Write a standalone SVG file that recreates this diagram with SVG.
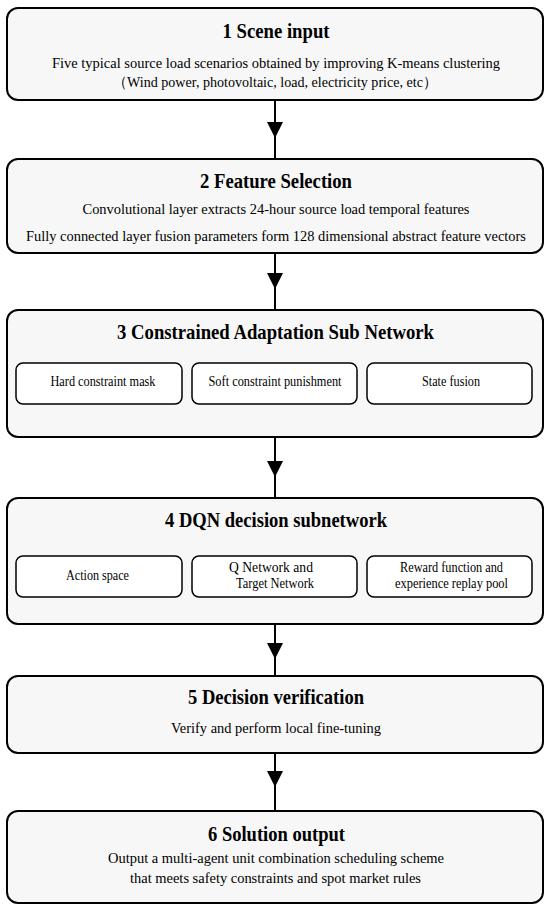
<svg xmlns="http://www.w3.org/2000/svg" width="550" height="911" viewBox="0 0 550 911">
<defs>
<style>
.outer{fill:#f7f7f7;stroke:#000;stroke-width:2}
.inner{fill:#fff;stroke:#000;stroke-width:1.5}
text{font-family:"Liberation Serif","Times New Roman",serif;text-anchor:middle;fill:#000}
.title{font-weight:bold;font-size:21px}
.body{font-size:15px}
.small{font-size:14.5px}
.conn{stroke:#000;stroke-width:2;fill:none}
.head{fill:#000}
</style>
</defs>
<rect width="550" height="911" fill="#fff"/>
<g id="connectors">
<line class="conn" x1="275" y1="100" x2="275" y2="159"/>
<polygon class="head" points="267,122 283,122 275,138"/>
<line class="conn" x1="275" y1="253" x2="275" y2="310"/>
<polygon class="head" points="267,273 283,273 275,289"/>
<line class="conn" x1="275" y1="437" x2="275" y2="498"/>
<polygon class="head" points="267,461 283,461 275,477"/>
<line class="conn" x1="275" y1="624" x2="275" y2="676"/>
<polygon class="head" points="267,643 283,643 275,659"/>
<line class="conn" x1="275" y1="753" x2="275" y2="811"/>
<polygon class="head" points="267,771 283,771 275,787"/>
</g>
<g id="node1">
<rect class="outer" x="7" y="8" width="536" height="92" rx="11"/>
<text class="title" x="276" y="38" textLength="107" lengthAdjust="spacingAndGlyphs">1 Scene input</text>
<text class="body" x="276" y="68" textLength="448" lengthAdjust="spacingAndGlyphs">Five typical source load scenarios obtained by improving K-means clustering</text>
<text class="body" x="275" y="87" textLength="324" lengthAdjust="spacingAndGlyphs">（Wind power, photovoltaic, load, electricity price, etc）</text>
</g>
<g id="node2">
<rect class="outer" x="7" y="159" width="536" height="94" rx="11"/>
<text class="title" x="276" y="188" textLength="152" lengthAdjust="spacingAndGlyphs">2 Feature Selection</text>
<text class="body" x="276" y="214" textLength="387" lengthAdjust="spacingAndGlyphs">Convolutional layer extracts 24-hour source load temporal features</text>
<text class="body" x="276" y="241" textLength="500" lengthAdjust="spacingAndGlyphs">Fully connected layer fusion parameters form 128 dimensional abstract feature vectors</text>
</g>
<g id="node3">
<rect class="outer" x="7" y="310" width="536" height="127" rx="11"/>
<text class="title" x="275.5" y="339" textLength="317" lengthAdjust="spacingAndGlyphs">3 Constrained Adaptation Sub Network</text>
<g id="node3a">
<rect class="inner" x="16" y="363" width="166" height="41" rx="7"/>
<text class="small" x="103" y="386" textLength="105" lengthAdjust="spacingAndGlyphs">Hard constraint mask</text>
</g>
<g id="node3b">
<rect class="inner" x="192" y="363" width="165" height="41" rx="7"/>
<text class="small" x="275" y="386" textLength="133" lengthAdjust="spacingAndGlyphs">Soft constraint punishment</text>
</g>
<g id="node3c">
<rect class="inner" x="367" y="363" width="165" height="41" rx="7"/>
<text class="small" x="451" y="386" textLength="58" lengthAdjust="spacingAndGlyphs">State fusion</text>
</g>
</g>
<g id="node4">
<rect class="outer" x="7" y="498" width="536" height="126" rx="11"/>
<text class="title" x="276" y="527" textLength="222" lengthAdjust="spacingAndGlyphs">4 DQN decision subnetwork</text>
<g id="node4a">
<rect class="inner" x="16" y="556" width="166" height="41" rx="7"/>
<text class="small" x="97.5" y="580" textLength="63" lengthAdjust="spacingAndGlyphs">Action space</text>
</g>
<g id="node4b">
<rect class="inner" x="192" y="556" width="165" height="41" rx="7"/>
<text class="small" x="271" y="572" textLength="84" lengthAdjust="spacingAndGlyphs">Q Network and</text>
<text class="small" x="275" y="588" textLength="78" lengthAdjust="spacingAndGlyphs">Target Network</text>
</g>
<g id="node4c">
<rect class="inner" x="367" y="556" width="165" height="41" rx="7"/>
<text class="small" x="451.5" y="572" textLength="103" lengthAdjust="spacingAndGlyphs">Reward function and</text>
<text class="small" x="451.5" y="588" textLength="113" lengthAdjust="spacingAndGlyphs">experience replay pool</text>
</g>
</g>
<g id="node5">
<rect class="outer" x="7" y="676" width="536" height="77" rx="11"/>
<text class="title" x="276" y="704" textLength="176" lengthAdjust="spacingAndGlyphs">5 Decision verification</text>
<text class="body" x="276" y="733" textLength="210" lengthAdjust="spacingAndGlyphs">Verify and perform local fine-tuning</text>
</g>
<g id="node6">
<rect class="outer" x="7" y="811" width="536" height="92" rx="11"/>
<text class="title" x="276.5" y="841" textLength="137" lengthAdjust="spacingAndGlyphs">6 Solution output</text>
<text class="body" x="276" y="863" textLength="336" lengthAdjust="spacingAndGlyphs">Output a multi-agent unit combination scheduling scheme</text>
<text class="body" x="275.5" y="883" textLength="291" lengthAdjust="spacingAndGlyphs">that meets safety constraints and spot market rules</text>
</g>
</svg>
